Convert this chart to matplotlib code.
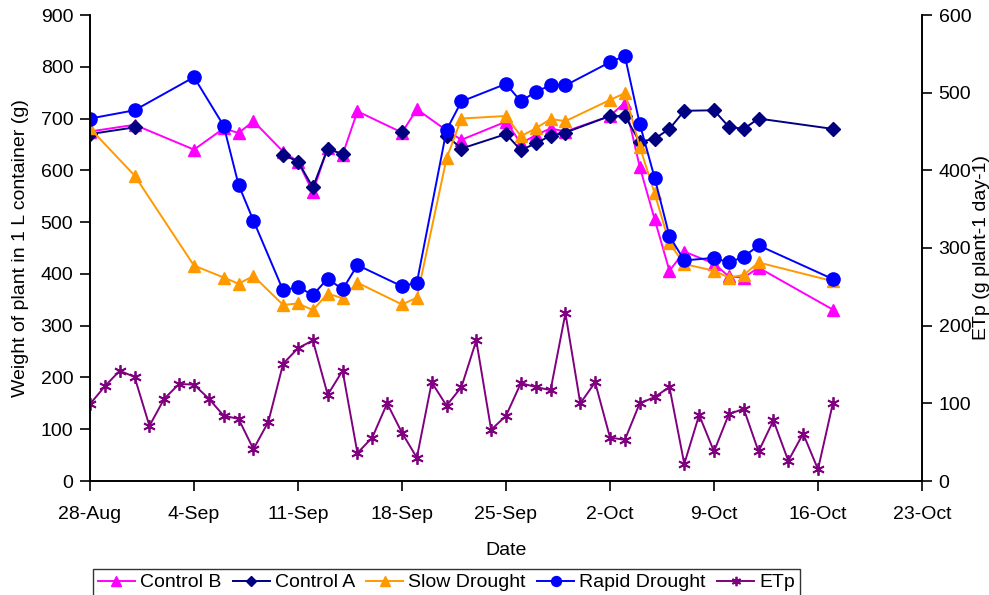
import matplotlib.pyplot as plt

plt.rcParams['font.family'] = ['Liberation Sans', 'DejaVu Sans']

nan = float('nan')

# days counted from 28-Aug
day_ticks = [0, 7, 14, 21, 28, 35, 42, 49, 56]
day_labels = ['28-Aug', '4-Sep', '11-Sep', '18-Sep', '25-Sep', '2-Oct', '9-Oct', '16-Oct', '23-Oct']

# weighing days
days = [0, 3, 7, 9, 10, 11, 13, 14, 15, 16, 17, 18, 21, 22, 24, 25, 28, 29, 30, 31, 32,
        35, 36, 37, 38, 39, 40, 42, 43, 44, 45, 50]

control_b = [675, 688, 640, 681, 672, 695, 636, 617, 558, 644, 630, 714, 673, 718, 677, 659, 694,
             652, 668, 681, 675, 705, 731, 607, 506, 406, 443, 420, 395, 393, 412, 331]

# Control A was not weighed on every day (blank cells)
control_a = [670, 683, nan, nan, nan, nan, 630, 617, 567, 642, 631, nan, 675, nan, 667, 642, 670,
             639, 652, 667, 673, 705, 705, 655, 661, 680, 715, 716, 684, 680, 700, 680]

slow = [681, 590, 416, 393, 381, 396, 340, 343, 330, 362, 353, 383, 341, 354, 623, 700, 705,
        666, 681, 699, 695, 736, 749, 646, 556, 459, 419, 406, 393, 398, 422, 386]

rapid = [700, 716, 780, 686, 572, 503, 368, 375, 359, 391, 370, 417, 376, 383, 678, 733, 767,
         733, 752, 764, 764, 809, 821, 690, 586, 473, 426, 431, 422, 433, 455, 390]

# ETp, one value per day
etp = [99, 122, 142, 134, 71, 106, 125, 124, 106, 84, 80, 41, 76, 151, 171, 181, 111, 142, 36,
       56, 100, 62, 30, 127, 97, 121, 181, 66, 84, 126, 121, 117, 216, 100, 127, 56, 53, 100,
       108, 121, 22, 85, 38, 86, 93, 38, 78, 26, 61, 15, 100]
days_etp = list(range(len(etp)))

fs = 14

fig = plt.figure(figsize=(9.89, 5.95), dpi=100)
ax = fig.add_axes([90 / 989, 1 - 481 / 595, (922 - 90) / 989, (481 - 15) / 595])
ax2 = ax.twinx()

lw = 1.4
h1, = ax.plot(days, control_b, color='#FF00FF', lw=lw, marker='^', ms=9, label='Control B')
h2, = ax.plot(days, control_a, color='#000080', lw=lw, marker='D', ms=7, label='Control A')
h3, = ax.plot(days, slow, color='#FF9900', lw=lw, marker='^', ms=9, label='Slow Drought')
h4, = ax.plot(days, rapid, color='#0000FF', lw=lw, marker='o', ms=9.5, label='Rapid Drought')
h5, = ax2.plot(days_etp, etp, color='#800080', lw=lw, marker=(6, 2, 0), ms=9, mew=1.3, label='ETp')

ax.set_xlim(0, 56)
ax.set_ylim(0, 900)
ax2.set_ylim(0, 600)
ax.set_xticks(day_ticks)
ax.set_xticklabels(day_labels)
ax.set_yticks(range(0, 901, 100))
ax2.set_yticks(range(0, 601, 100))

for a in (ax, ax2):
    a.spines['top'].set_visible(False)
    for s in a.spines.values():
        s.set_linewidth(1.2)
    a.tick_params(labelsize=fs, length=7, width=1.2, direction='out', pad=5)
ax.tick_params(axis='x', pad=11)

ax.set_xlabel('Date', fontsize=fs, labelpad=14)
ax.set_ylabel('Weight of plant in 1 L container (g)', fontsize=fs, labelpad=8)
ax2.set_ylabel('ETp (g plant-1 day-1)', fontsize=fs, labelpad=1)

leg = fig.legend([h1, h2, h3, h4, h5], ['Control B', 'Control A', 'Slow Drought', 'Rapid Drought', 'ETp'],
                 loc='upper left', bbox_to_anchor=(93 / 989, 1 - 569 / 595), borderaxespad=0,
                 ncol=5, fontsize=fs, frameon=True, fancybox=False, edgecolor='black',
                 handlelength=1.9, handletextpad=0.25, columnspacing=0.6, borderpad=0.25,
                 markerscale=0.75)
leg.get_frame().set_linewidth(1.0)

fig.savefig('out.png', dpi=100)
